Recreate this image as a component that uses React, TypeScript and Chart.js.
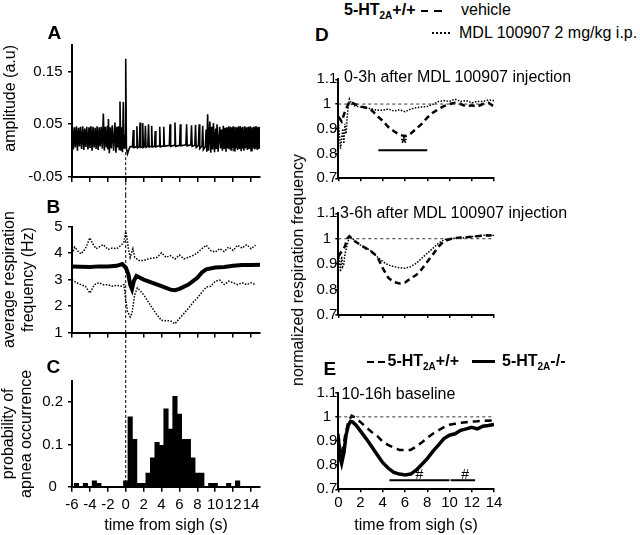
import React, { useEffect, useRef } from "react";
import { Chart, registerables } from "chart.js";

Chart.register(...registerables);

const FONT = "'Liberation Sans', Arial, Helvetica, sans-serif";
Chart.defaults.font.family = FONT;
Chart.defaults.color = "#000";

// ---------------- Panel A : raw respiratory trace ----------------
const aTraceT = [
  -6.0, -5.95, -5.85, -5.72, -5.62, -5.5, -5.39, -5.27, -5.16, -5.05, -4.93, -4.8, -4.68, -4.57, -4.46, -4.35,
  -4.22, -4.1, -3.99, -3.88, -3.76, -3.65, -3.53, -3.42, -3.31, -3.2, -3.08, -2.97, -2.86, -2.75, -2.62, -2.5,
  -2.39, -2.28, -2.16, -2.05, -1.99, -1.93, -1.83, -1.72, -1.61, -1.5, -1.35, -1.2, -1.09, -0.98, -0.89, -0.8,
  -0.72, -0.64, -0.55, -0.45, -0.36, -0.27, -0.18, -0.09, -0.03, 0.0, 0.08, 0.2, 0.35, 0.5, 0.75, 0.85,
  0.92, 1.15, 1.25, 1.32, 1.52, 1.6, 1.67, 1.83, 1.9, 1.97, 2.13, 2.2, 2.27, 2.47, 2.55, 2.62,
  2.83, 2.9, 2.97, 3.22, 3.3, 3.37, 3.72, 3.8, 3.87, 4.17, 4.25, 4.32, 4.87, 4.95, 5.02, 5.42,
  5.5, 5.57, 6.02, 6.1, 6.17, 6.72, 6.8, 6.87, 7.27, 7.35, 7.42, 7.72, 7.8, 7.87, 8.12, 8.2,
  8.27, 8.52, 8.6, 8.67, 8.9, 8.98, 9.06, 9.15, 9.25, 9.4, 9.5, 9.6, 9.7, 9.8, 9.92, 10.05,
  10.12, 10.2, 10.32, 10.5, 10.6, 10.7, 10.8, 10.9, 11.0, 11.1, 11.2, 11.3, 11.4, 11.5, 11.58, 11.65,
  11.78, 11.85, 11.93, 12.0, 12.1, 12.2, 12.3, 12.4, 12.5, 12.6, 12.7, 12.8, 12.9, 13.0, 13.05, 13.1,
  13.2, 13.3, 13.4, 13.5, 13.6, 13.7, 13.8, 13.9, 14.0, 14.1, 14.2, 14.3, 14.4, 14.5, 14.55, 14.6,
  14.7, 14.8, 14.85, 14.9, 15.0,
];
const aTraceV = [
  0.004, 0.045, 0.002, 0.044, 0.006, 0.046, 0.0, 0.043, 0.008, 0.045, 0.003, 0.046, 0.001, 0.042, 0.007, 0.045,
  0.002, 0.044, 0.005, 0.046, 0.0, 0.045, 0.006, 0.043, 0.003, 0.046, 0.001, 0.044, 0.008, 0.045, 0.004, 0.07,
  0.0, 0.045, 0.006, 0.047, 0.002, 0.06, -0.005, 0.044, 0.004, 0.048, 0.0, 0.053, -0.004, 0.045, 0.006, 0.046,
  0.002, 0.093, 0.0, 0.044, -0.003, 0.092, 0.005, 0.03, 0.008, 0.174, 0.004, -0.006, 0.002, 0.008, 0.007, 0.039,
  0.006, 0.007, 0.046, 0.005, 0.007, 0.053, 0.006, 0.007, 0.052, 0.006, 0.008, 0.047, 0.006, 0.008, 0.05, 0.007,
  0.008, 0.047, 0.007, 0.008, 0.037, 0.007, 0.009, 0.045, 0.007, 0.009, 0.045, 0.008, 0.01, 0.05, 0.008, 0.01,
  0.053, 0.008, 0.01, 0.05, 0.009, 0.011, 0.05, 0.009, 0.011, 0.048, 0.008, 0.01, 0.049, 0.006, 0.01, 0.05,
  0.004, 0.009, 0.047, 0.002, 0.008, 0.04, -0.002, 0.069, 0.0, 0.055, -0.004, 0.045, 0.002, 0.052, -0.003, 0.042,
  0.003, 0.05, -0.002, 0.045, 0.004, 0.04, 0.0, 0.047, 0.003, 0.043, -0.002, 0.044, 0.004, 0.046, 0.002, 0.045,
  0.001, 0.044, 0.005, 0.046, 0.0, 0.045, 0.004, 0.044, 0.001, 0.046, 0.003, 0.046, -0.001, 0.044, 0.004, 0.045,
  0.0, 0.046, 0.004, 0.044, 0.001, 0.045, 0.003, 0.046, 0.0, 0.044, 0.004, 0.045, 0.002, 0.046, 0.004, 0.046,
  0.001, 0.044, 0.003, 0.045, 0.004,
];
const aXTicks = [-6, -4, -2, 0, 2, 4, 6, 8, 10, 12, 14];
const aYTicks = [-0.05, 0.05, 0.15];

// ---------------- Panel B : average respiration frequency ----------------
const bMeanT = [-6, -5, -4, -3, -2, -1, -0.4, 0, 0.3, 0.5, 0.7, 0.9, 1.2, 1.6, 2, 3, 4, 5, 5.5, 6, 7, 8, 8.5, 9, 10, 11, 12, 13, 14, 15];
const bMeanV = [3.5, 3.49, 3.48, 3.5, 3.5, 3.52, 3.59, 3.46, 3.2, 2.81, 2.64, 2.94, 3.14, 3.07, 3.0, 2.88, 2.75, 2.62, 2.6, 2.65, 2.81, 3.07, 3.27, 3.39, 3.46, 3.48, 3.52, 3.55, 3.55, 3.56];
const bUpperT = [-6, -5.7, -5.3, -5, -4.5, -4, -3.7, -3.3, -3, -2.5, -2, -1.5, -1, -0.5, -0.2, 0, 0.1, 0.3, 0.5, 0.8, 1, 1.5, 2, 2.5, 3, 3.5, 4, 4.5, 5, 5.5, 6, 6.5, 7, 7.5, 8, 8.5, 9, 9.5, 10, 10.5, 11, 11.5, 12, 12.5, 13, 13.5, 14, 14.5];
const bUpperV = [3.97, 4.23, 4.06, 3.97, 4.17, 4.58, 4.36, 4.17, 4.23, 4.32, 4.14, 4.19, 4.17, 4.3, 4.42, 4.81, 4.68, 4.17, 3.84, 4.17, 3.84, 3.72, 3.72, 3.78, 3.81, 3.84, 4.01, 3.84, 3.91, 3.78, 3.93, 3.78, 3.84, 3.91, 4.01, 4.17, 4.3, 4.1, 4.04, 4.17, 4.06, 4.23, 4.1, 4.3, 4.19, 4.32, 4.17, 4.3];
const bLowerT = [-6, -5.5, -5, -4.5, -4, -3.5, -3, -2.5, -2, -1.5, -1, -0.5, -0.2, 0, 0.2, 0.5, 0.7, 1, 1.3, 1.5, 2, 2.5, 3, 3.5, 4, 4.5, 5, 5.5, 6, 6.5, 7, 7.5, 8, 8.5, 9, 9.5, 10, 10.5, 11, 11.5, 12, 12.5, 13, 13.5, 14, 14.5];
const bLowerV = [3.0, 2.88, 2.81, 2.75, 2.49, 2.81, 2.88, 2.81, 2.81, 2.75, 2.78, 2.75, 2.81, 2.24, 1.79, 1.59, 1.72, 2.43, 2.69, 2.62, 2.43, 2.17, 1.91, 1.66, 1.46, 1.44, 1.44, 1.33, 1.53, 1.72, 1.91, 2.13, 2.3, 2.52, 2.72, 2.75, 2.94, 2.98, 2.81, 2.94, 2.88, 2.81, 2.88, 2.81, 2.88, 2.81];
const bYTicks = [1, 2, 3, 4, 5];

// ---------------- Panel C : probability of apnea occurrence ----------------
const cBinT = [-5.5, -4.5, -3.5, -3.0, 0, 0.5, 1.0, 1.5, 2.0, 2.5, 3.0, 3.5, 4.0, 4.5, 5.0, 5.5, 6.0, 6.5, 7.0, 7.5, 8.0, 8.5, 9.5, 10.0, 11.5, 12.5];
const cProb = [0.008, 0.008, 0.014, 0.008, 0.014, 0.165, 0.112, 0.008, 0.008, 0.032, 0.068, 0.105, 0.098, 0.184, 0.136, 0.214, 0.172, 0.112, 0.112, 0.068, 0.032, 0.032, 0.008, 0.008, 0.008, 0.014];
const cYTicks = [0, 0.1, 0.2];

// ---------------- Panel D (0-3h) ----------------
const d1MdlT = [0, 0.1, 0.2, 0.3, 0.4, 0.5, 0.6, 0.7, 0.8, 0.9, 1.0, 1.2, 1.5, 2, 2.5, 3, 3.5, 4, 4.5, 5, 5.5, 6, 6.5, 7, 7.5, 8, 8.5, 9, 9.5, 10, 10.5, 11, 11.5, 12, 12.5, 13, 13.5, 14];
const d1MdlV = [0.93, 0.88, 0.82, 0.86, 0.9, 0.84, 0.92, 0.88, 0.95, 0.99, 1.02, 1.0, 0.992, 0.988, 0.985, 0.98, 0.975, 0.975, 0.98, 0.972, 0.977, 0.969, 0.98, 0.985, 0.988, 0.99, 0.999, 1.01, 1.014, 1.011, 1.02, 1.01, 1.014, 1.005, 1.011, 1.01, 1.017, 1.014];
const d1VehT = [0, 0.3, 0.6, 1.0, 1.5, 2, 2.5, 3, 3.5, 4, 4.5, 5, 5.5, 6, 6.5, 7, 7.5, 8, 8.5, 9, 9.5, 10, 10.5, 11, 11.5, 12, 12.5, 13, 13.5, 14];
const d1VehV = [0.95, 0.93, 0.97, 1.01, 1.0, 0.99, 0.985, 0.975, 0.952, 0.932, 0.907, 0.89, 0.876, 0.87, 0.88, 0.9, 0.92, 0.945, 0.965, 0.98, 0.992, 1.0, 1.005, 1.0, 0.99, 0.995, 0.99, 1.0, 1.005, 0.99];
const d1SigT = [3.6, 8.0];
const d1SigV = [0.813, 0.813];
const d1StarT = [5.9];
const d1StarV = [0.835];

// ---------------- Panel D (3-6h) ----------------
const d2MdlT = [0, 0.1, 0.2, 0.3, 0.4, 0.5, 0.6, 0.8, 1.0, 1.3, 1.5, 2, 2.5, 3, 3.5, 4, 4.5, 5, 5.5, 6, 6.5, 7, 7.5, 8, 8.5, 9, 9.5, 10, 10.5, 11, 11.5, 12, 12.5, 13, 13.5, 14];
const d2MdlV = [0.95, 0.91, 0.87, 0.93, 0.89, 0.9, 0.94, 0.975, 1.008, 1.0, 0.99, 0.975, 0.965, 0.949, 0.929, 0.91, 0.897, 0.89, 0.886, 0.884, 0.89, 0.903, 0.923, 0.943, 0.962, 0.982, 0.996, 1.0, 1.002, 1.002, 1.005, 1.008, 1.01, 1.013, 1.016, 1.013];
const d2VehT = [0, 0.3, 0.6, 0.8, 1.0, 1.5, 2, 2.5, 3, 3.5, 4, 4.5, 5, 5.5, 6, 6.5, 7, 7.5, 8, 8.5, 9, 9.5, 10, 10.5, 11, 11.5, 12, 12.5, 13, 13.5, 14];
const d2VehV = [0.93, 0.95, 0.97, 1.0, 1.01, 0.99, 0.975, 0.962, 0.949, 0.93, 0.884, 0.846, 0.83, 0.824, 0.828, 0.844, 0.857, 0.88, 0.909, 0.938, 0.968, 0.99, 0.998, 1.003, 1.005, 1.006, 1.008, 1.01, 1.012, 1.013, 1.013];

// ---------------- Panel E (10-16h baseline) ----------------
const eKoT = [0, 0.1, 0.2, 0.3, 0.5, 0.7, 0.9, 1.1, 1.3, 1.6, 2, 2.5, 3, 3.5, 4, 4.5, 5, 5.5, 6, 6.5, 7, 7.5, 8, 8.5, 9, 9.5, 10, 10.5, 11, 11.5, 12, 12.5, 13, 13.5, 14];
const eKoV = [0.91, 0.87, 0.825, 0.807, 0.85, 0.925, 0.965, 0.981, 0.978, 0.965, 0.941, 0.91, 0.877, 0.843, 0.81, 0.787, 0.77, 0.763, 0.759, 0.763, 0.779, 0.803, 0.827, 0.857, 0.883, 0.91, 0.924, 0.93, 0.944, 0.95, 0.957, 0.95, 0.961, 0.964, 0.968];
const eWtT = [0, 0.2, 0.35, 0.6, 0.9, 1.2, 1.5, 2, 2.5, 3, 3.5, 4, 4.5, 5, 5.5, 6, 6.5, 7, 7.5, 8, 8.5, 9, 9.5, 10, 10.5, 11, 11.5, 12, 12.5, 13, 14];
const eWtV = [0.93, 0.86, 0.84, 0.92, 0.98, 1.005, 0.998, 0.978, 0.957, 0.937, 0.921, 0.897, 0.883, 0.873, 0.863, 0.863, 0.863, 0.877, 0.894, 0.913, 0.93, 0.944, 0.957, 0.967, 0.971, 0.975, 0.978, 0.981, 0.982, 0.984, 0.985];
const eSig1T = [4.6, 10.0];
const eSig2T = [10.1, 12.3];
const eSigV = [0.737, 0.737];
const eHashT = [7.3, 11.4];
const eHashV = [0.757, 0.757];

// shared for right panels
const rXTicks = [0, 2, 4, 6, 8, 10, 12, 14];
const rYTicks = [0.7, 0.8, 0.9, 1, 1.1];
const refT = [0, 14];
const refV = [1, 1];

// ---------------- helpers ----------------
const pts = (xs: number[], ys: number[]) => xs.map((x, i) => ({ x, y: ys[i] }));

function line(xs: number[], ys: number[], style: any) {
  return {
    data: pts(xs, ys),
    borderColor: "#000",
    backgroundColor: "#000",
    pointRadius: 0,
    tension: 0,
    fill: false,
    ...style,
  };
}

function axis(o: any) {
  return {
    type: "linear",
    min: o.min,
    max: o.max,
    offset: false,
    afterBuildTicks: (s: any) => {
      s.ticks = o.ticks.map((v: number) => ({ value: v }));
    },
    afterFit: (s: any) => {
      if (o.horizontal) s.height = o.size;
      else s.width = o.size;
    },
    ticks: {
      display: o.labels,
      autoSkip: false,
      maxRotation: 0,
      minRotation: 0,
      color: "#000",
      font: { family: FONT, size: 15 },
      padding: o.pad,
      crossAlign: o.cross || "near",
      callback: (v: any) => String(v),
    },
    grid: {
      display: true,
      drawOnChartArea: false,
      drawTicks: true,
      tickLength: o.tickLength,
      color: "#000",
      lineWidth: 1.5,
      offset: false,
    },
    border: { display: true, color: "#000", width: 2 },
    title: o.title || { display: false },
  };
}

function baseOptions(padding: any, scales: any, plugins: any = {}) {
  return {
    responsive: false,
    animation: false,
    events: [],
    layout: { padding },
    plugins: {
      legend: { display: false },
      tooltip: { enabled: false },
      title: { display: false },
      ...plugins,
    },
    scales,
  };
}

const zeroLinePlugin = {
  id: "zeroLine",
  afterDatasetsDraw(chart: any, _a: any, opts: any) {
    if (!opts || opts.x === undefined) return;
    const { ctx } = chart;
    const px = chart.scales.x.getPixelForValue(opts.x);
    const y0 = opts.fromValue !== undefined ? chart.scales.y.getPixelForValue(opts.fromValue) : 0;
    const y1 = opts.toValue !== undefined ? chart.scales.y.getPixelForValue(opts.toValue) : chart.height;
    ctx.save();
    ctx.setLineDash([3, 2]);
    ctx.lineWidth = 1;
    ctx.strokeStyle = "#000";
    ctx.beginPath();
    ctx.moveTo(px, y0);
    ctx.lineTo(px, y1);
    ctx.stroke();
    ctx.restore();
  },
};

const marksPlugin = {
  id: "marks",
  afterDatasetsDraw(chart: any, _a: any, opts: any) {
    if (!opts || !opts.items) return;
    const { ctx } = chart;
    ctx.save();
    ctx.fillStyle = "#000";
    ctx.textAlign = "center";
    ctx.textBaseline = "middle";
    opts.items.forEach((it: any) => {
      ctx.font = it.font;
      ctx.fillText(it.text, chart.scales.x.getPixelForValue(it.x), chart.scales.y.getPixelForValue(it.y));
    });
    ctx.restore();
  },
};

const yTitle = (text: any, align: string, pad: any, lh = 1.2) => ({
  display: true,
  text,
  align,
  color: "#000",
  font: { family: FONT, size: 16, lineHeight: lh },
  padding: pad,
});

const xTitle = {
  display: true,
  text: "time from sigh (s)",
  color: "#000",
  font: { family: FONT, size: 16 },
  padding: { top: 0, bottom: 0 },
};

// ---------------- chart configs ----------------
const configA = () => ({
  type: "line",
  data: { datasets: [line(aTraceT, aTraceV, { borderWidth: 1.6 })] },
  options: baseOptions(
    { left: 0, top: 45, right: 15, bottom: 0 },
    {
      x: axis({ min: -6, max: 15, ticks: aXTicks, size: 18, horizontal: true, labels: false, tickLength: 5, pad: 0 }),
      y: axis({
        min: -0.05, max: 0.2, ticks: aYTicks, size: 72, horizontal: false, labels: true, tickLength: 4, pad: 5.5,
        title: yTitle("amplitude (a.u)", "end", { top: 1, bottom: 0 }),
      }),
    },
    { zeroLine: { x: 0, fromValue: -0.003 } }
  ),
  plugins: [zeroLinePlugin],
});

const configB = () => ({
  type: "line",
  data: {
    datasets: [
      line(bUpperT, bUpperV, { borderWidth: 1.5, borderDash: [1.5, 1.5] }),
      line(bLowerT, bLowerV, { borderWidth: 1.5, borderDash: [1.5, 1.5] }),
      line(bMeanT, bMeanV, { borderWidth: 4 }),
    ],
  },
  options: baseOptions(
    { left: 0, top: 31.7, right: 15, bottom: 0 },
    {
      x: axis({ min: -6, max: 15, ticks: aXTicks, size: 17.5, horizontal: true, labels: false, tickLength: 5, pad: 0 }),
      y: axis({
        min: 1, max: 5, ticks: bYTicks, size: 72, horizontal: false, labels: true, tickLength: 4, pad: 5.5,
        title: yTitle(["average respiration", "frequency (Hz)"], "center", { top: 0, bottom: 0 }),
      }),
    },
    { zeroLine: { x: 0 } }
  ),
  plugins: [zeroLinePlugin],
});

const configC = () => ({
  type: "bar",
  data: {
    datasets: [
      {
        data: pts(cBinT, cProb),
        backgroundColor: "#000",
        borderWidth: 0,
        barPercentage: 1,
        categoryPercentage: 1,
      },
    ],
  },
  options: baseOptions(
    { left: 0, top: 31, right: 15, bottom: 0 },
    {
      x: axis({ min: -6, max: 15, ticks: aXTicks, size: 48.3, horizontal: true, labels: true, tickLength: 5, pad: 4, title: xTitle }),
      y: axis({
        min: 0, max: 0.25, ticks: cYTicks, size: 72, horizontal: false, labels: true, tickLength: 4, pad: 5, cross: "center",
        title: yTitle(["probability of", "apnea occurrence"], "center", { top: 0, bottom: 0 }, 1.1),
      }),
    },
    { zeroLine: { x: 0, toValue: 0 } }
  ),
  plugins: [zeroLinePlugin],
});

const rightY = (labels = true) =>
  axis({ min: 0.7, max: 1.1, ticks: rYTicks, size: 33.3, horizontal: false, labels, tickLength: 3, pad: -2, cross: "center" });

const refLine = () => line(refT, refV, { borderWidth: 1, borderDash: [3, 3], borderColor: "#333" });

const configD1 = () => ({
  type: "line",
  data: {
    datasets: [
      refLine(),
      line(d1MdlT, d1MdlV, { borderWidth: 1.5, borderDash: [1.5, 1.5] }),
      line(d1VehT, d1VehV, { borderWidth: 2.5, borderDash: [6, 4] }),
      line(d1SigT, d1SigV, { borderWidth: 2 }),
    ],
  },
  options: baseOptions(
    { left: 0, top: 19.3, right: 26, bottom: 0 },
    {
      x: axis({ min: 0, max: 14, ticks: rXTicks, size: 11.7, horizontal: true, labels: false, tickLength: 3, pad: 0 }),
      y: rightY(),
    },
    { marks: { items: d1StarT.map((x, i) => ({ x, y: d1StarV[i], text: "*", font: `bold 16px ${FONT}` })) } }
  ),
  plugins: [marksPlugin],
});

const configD2 = () => ({
  type: "line",
  data: {
    datasets: [
      refLine(),
      line(d2MdlT, d2MdlV, { borderWidth: 1.5, borderDash: [1.5, 1.5] }),
      line(d2VehT, d2VehV, { borderWidth: 2.5, borderDash: [6, 4] }),
    ],
  },
  options: baseOptions(
    { left: 0, top: 18.3, right: 26, bottom: 0 },
    {
      x: axis({ min: 0, max: 14, ticks: rXTicks, size: 10, horizontal: true, labels: false, tickLength: 3, pad: 0 }),
      y: rightY(),
    }
  ),
});

const configE = () => ({
  type: "line",
  data: {
    datasets: [
      refLine(),
      line(eWtT, eWtV, { borderWidth: 2.5, borderDash: [7, 5] }),
      line(eKoT, eKoV, { borderWidth: 3.5 }),
      line(eSig1T, eSigV, { borderWidth: 2 }),
      line(eSig2T, eSigV, { borderWidth: 2 }),
    ],
  },
  options: baseOptions(
    { left: 0, top: 17.7, right: 26, bottom: 0 },
    {
      x: axis({ min: 0, max: 14, ticks: rXTicks, size: 45.7, horizontal: true, labels: true, tickLength: 3, pad: 2, title: xTitle }),
      y: rightY(),
    },
    { marks: { items: eHashT.map((x, i) => ({ x, y: eHashV[i], text: "#", font: `14px ${FONT}` })) } }
  ),
  plugins: [marksPlugin],
});

// ---------------- components ----------------
function Panel({ left, top, width, height, config }: any) {
  const ref = useRef<HTMLCanvasElement>(null);
  useEffect(() => {
    const chart = new Chart(ref.current as HTMLCanvasElement, config());
    return () => chart.destroy();
  }, []);
  return (
    <canvas
      ref={ref}
      width={width}
      height={height}
      style={{ position: "absolute", left, top, width, height }}
    />
  );
}

function Txt({ left, top, size = 16, bold = false, children }: any) {
  return (
    <div
      style={{
        position: "absolute",
        left,
        top,
        fontSize: size,
        lineHeight: `${size}px`,
        fontWeight: bold ? 700 : 400,
        whiteSpace: "nowrap",
      }}
    >
      {children}
    </div>
  );
}

const Sub = ({ children }: any) => (
  <span style={{ fontSize: 10, position: "relative", top: 4 }}>{children}</span>
);

function Seg({ left, top, width, height = 2.5, dotted = false }: any) {
  return dotted ? (
    <div style={{ position: "absolute", left, top, width, height: 0, borderTop: "2px dotted #000" }} />
  ) : (
    <div style={{ position: "absolute", left, top, width, height, background: "#000" }} />
  );
}

export default function App() {
  return (
    <div
      style={{
        position: "fixed",
        left: 0,
        top: 0,
        width: 640,
        height: 535,
        background: "#fff",
        overflow: "hidden",
        fontFamily: FONT,
        color: "#000",
      }}
    >
      <Panel left={0} top={0} width={275} height={195} config={configA} />
      <Panel left={0} top={195} width={275} height={155} config={configB} />
      <Panel left={0} top={350} width={275} height={185} config={configC} />
      <Panel left={305} top={60} width={215} height={130} config={configD1} />
      <Panel left={305} top={195} width={215} height={130} config={configD2} />
      <Panel left={305} top={375} width={215} height={160} config={configE} />

      <Txt left={47.5} top={23.2} size={19} bold>A</Txt>
      <Txt left={46.5} top={197.4} size={19} bold>B</Txt>
      <Txt left={46.5} top={357.4} size={19} bold>C</Txt>
      <Txt left={315} top={24.7} size={19} bold>D</Txt>
      <Txt left={323.5} top={358.7} size={19} bold>E</Txt>

      {/* top legend */}
      <Txt left={344} top={1.5} bold>
        5-HT<Sub>2A</Sub>+/+
      </Txt>
      <Seg left={421} top={9.5} width={7} />
      <Seg left={434} top={9.5} width={8} />
      <Txt left={461} top={1.5}>vehicle</Txt>
      <Seg left={432} top={32} width={18} dotted />
      <Txt left={459} top={24.7}>MDL 100907 2 mg/kg i.p.</Txt>

      <Txt left={344} top={69.2}>0-3h after MDL 100907 injection</Txt>
      <Txt left={340} top={204.5}>3-6h after MDL 100907 injection</Txt>
      <Txt left={341.5} top={385.5}>10-16h baseline</Txt>

      {/* E legend */}
      <Seg left={367} top={360.5} width={6.5} />
      <Seg left={377.5} top={360.5} width={7.5} />
      <Txt left={387.5} top={353} bold>
        5-HT<Sub>2A</Sub>+/+
      </Txt>
      <Seg left={472} top={360} width={23} height={3} />
      <Txt left={502} top={353} bold>
        5-HT<Sub>2A</Sub>-/-
      </Txt>

      <div
        style={{
          position: "absolute",
          left: 297.6,
          top: 270,
          fontSize: 16,
          lineHeight: "16px",
          whiteSpace: "nowrap",
          transform: "translate(-50%, -50%) rotate(-90deg)",
        }}
      >
        normalized respiration frequency
      </div>
    </div>
  );
}
